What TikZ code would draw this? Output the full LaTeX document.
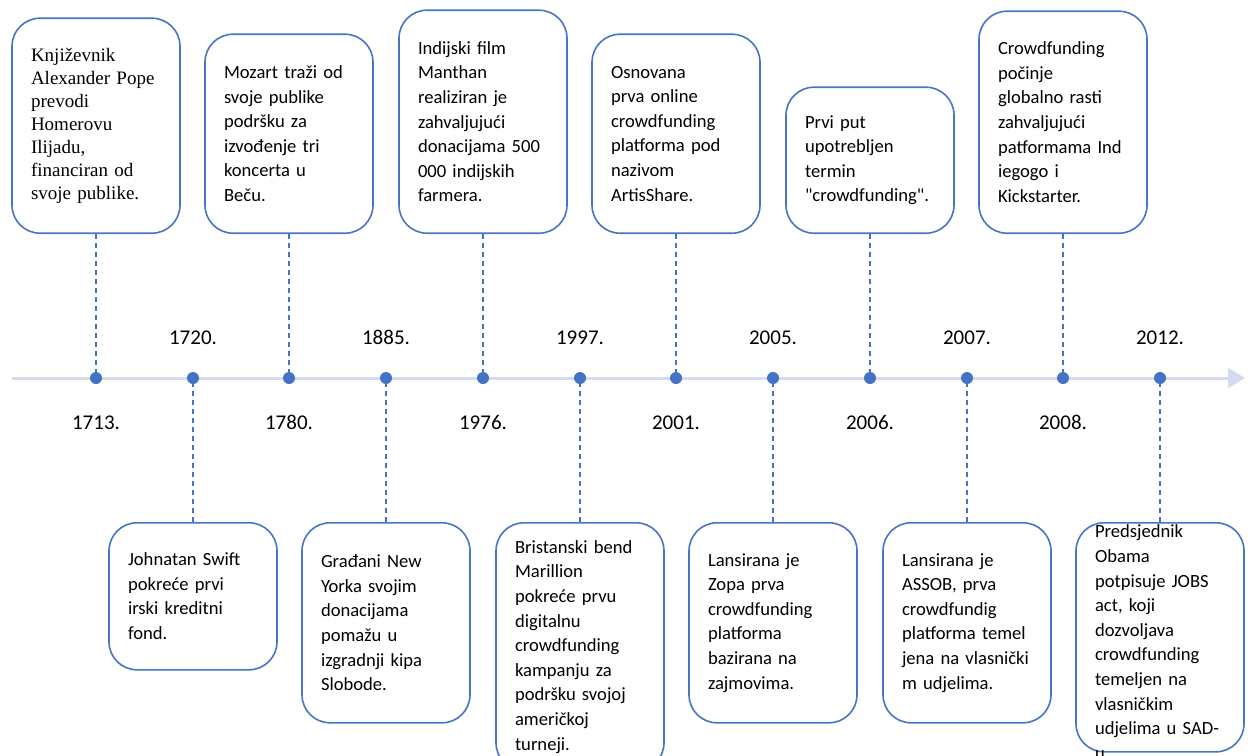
\documentclass[tikz,border=0pt]{standalone}
\usepackage{fontspec}
\setmainfont{Carlito}[Ligatures=TeXOff]
\newfontfamily\timesfont{Liberation Serif}
\usetikzlibrary{arrows.meta}
\definecolor{boxblue}{RGB}{72,116,196}
\definecolor{dotblue}{RGB}{68,114,196}
\definecolor{lineblue}{RGB}{212,218,240}
\hyphenpenalty=10000
\begin{document}
\begin{tikzpicture}[x=1pt, y=-1pt]
    \tikzstyle{every node}=[inner sep=0pt]
    \tikzstyle{timeline}=[draw=lineblue, line width=3pt, -{Triangle[width=20pt, length=17pt, fill=lineblue]}]
    \tikzstyle{dot}=[circle, fill=dotblue, minimum size=12pt]
    \tikzstyle{year}=[font=\fontsize{21}{25}\selectfont, anchor=base]
    \tikzstyle{event}=[draw=boxblue, line width=1.6pt, rounded corners=28pt, fill=white, text width=130pt, inner xsep=19pt, inner ysep=0pt, align=left, font=\fontsize{18.6}{24.6}\selectfont]
    \tikzstyle{link}=[draw=dotblue, line width=1.7pt, dash pattern=on 5pt off 4pt]
    \useasboundingbox (0,0) rectangle (1252,755);
    \coordinate (tlstart) at (12,378);
    \coordinate (tlend) at (1245,378);
    \coordinate (top) at (0,234);
    \coordinate (bot) at (0,522);
    \coordinate (yhi) at (0,344);
    \coordinate (ylo) at (0,429);
    \draw[timeline] (tlstart) -- (tlend);
    % dots and years
    \foreach \i/\yr in {1/1713.,2/1720.,3/1780.,4/1885.,5/1976.,6/1997.,7/2001.,8/2005.,9/2006.,10/2007.,11/2008.,12/2012.} {
        \node[dot] (d\i) at ({round(96+(\i-1)*96.73)},378) {};
        \ifodd\i
            \node[year] (y\i) at (d\i |- ylo) {\yr};
        \else
            \node[year] (y\i) at (d\i |- yhi) {\yr};
        \fi
    }
    % events above the line
    \node[event, anchor=south, minimum height=215pt, font=\timesfont\fontsize{19}{23}\selectfont] (e1) at (d1 |- top) {Književnik\\Alexander Pope\\prevodi\\Homerovu\\Ilijadu,\\financiran od\\svoje publike.};
    \node[event, anchor=south, minimum height=199pt] (e2) at (d3 |- top) {Mozart traži od\\svoje publike\\podršku za\\izvođenje tri\\koncerta u\\Beču.};
    \node[event, anchor=south, minimum height=223pt] (e3) at (d5 |- top) {Indijski film\\Manthan\\realiziran je\\zahvaljujući\\donacijama 500\\000 indijskih\\farmera.};
    \node[event, anchor=south, minimum height=199pt] (e4) at (d7 |- top) {Osnovana\\prva online\\crowdfunding\\platforma pod\\nazivom\\ArtisShare.};
    \node[event, anchor=south, minimum height=146pt] (e5) at (d9 |- top) {Prvi put\\upotrebljen\\termin\\"crowdfunding".};
    \node[event, anchor=south, minimum height=222pt] (e6) at (d11 |- top) {Crowdfunding\\počinje\\globalno rasti\\zahvaljujući\\patformama Ind\\iegogo i\\Kickstarter.};
    % events below the line
    \node[event, anchor=north, minimum height=147pt] (b1) at (d2 |- bot) {Johnatan Swift\\pokreće prvi\\irski kreditni\\fond.};
    \node[event, anchor=north, minimum height=200pt] (b2) at (d4 |- bot) {Građani New\\Yorka svojim\\donacijama\\pomažu u\\izgradnji kipa\\Slobode.};
    \node[event, anchor=north, minimum height=248pt] (b3) at (d6 |- bot) {Bristanski bend\\Marillion\\pokreće prvu\\digitalnu\\crowdfunding\\kampanju za\\podršku svojoj\\američkoj\\turneji.};
    \node[event, anchor=north, minimum height=200pt] (b4) at (d8 |- bot) {Lansirana je\\Zopa prva\\crowdfunding\\platforma\\bazirana na\\zajmovima.};
    \node[event, anchor=north, minimum height=200pt] (b5) at (d10 |- bot) {Lansirana je\\ASSOB, prva\\crowdfundig\\platforma temel\\jena na vlasnički\\m udjelima.};
    \node[event, anchor=north, text height=15pt, text depth=214pt] (b6) at (d12 |- bot) {Predsjednik\\Obama\\potpisuje JOBS\\act, koji\\dozvoljava\\crowdfunding\\temeljen na\\vlasničkim\\udjelima u SAD-\\u};
    % dashed links
    \foreach \e/\d in {e1/d1,e2/d3,e3/d5,e4/d7,e5/d9,e6/d11,b1/d2,b2/d4,b3/d6,b4/d8,b5/d10,b6/d12}
        \draw[link] (\e) -- (\d);
\end{tikzpicture}
\end{document}
